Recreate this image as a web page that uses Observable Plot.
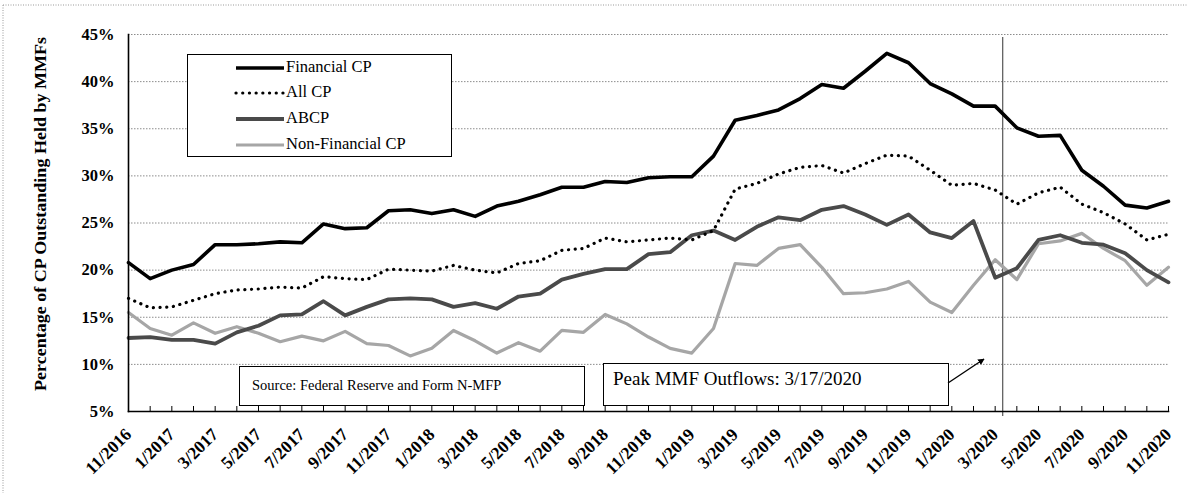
<!DOCTYPE html>
<html><head><meta charset="utf-8">
<script src="https://cdn.jsdelivr.net/npm/d3@7"></script>
<script src="https://cdn.jsdelivr.net/npm/@observablehq/plot@0.6"></script>
<style>
body{margin:0;background:#fff;}
#chart{position:relative;width:1187px;height:493px;overflow:hidden;}
</style></head><body><div id="chart"></div>
<script>
const months = ["11/2016","12/2016","1/2017","2/2017","3/2017","4/2017","5/2017","6/2017","7/2017","8/2017","9/2017","10/2017",
"11/2017","12/2017","1/2018","2/2018","3/2018","4/2018","5/2018","6/2018","7/2018","8/2018","9/2018","10/2018",
"11/2018","12/2018","1/2019","2/2019","3/2019","4/2019","5/2019","6/2019","7/2019","8/2019","9/2019","10/2019",
"11/2019","12/2019","1/2020","2/2020","3/2020","4/2020","5/2020","6/2020","7/2020","8/2020","9/2020","10/2020","11/2020"];
const financialCP = [20.8,19.1,20.0,20.6,22.7,22.7,22.8,23.0,22.9,24.9,24.4,24.5,26.3,26.4,26.0,26.4,25.7,26.8,27.3,28.0,28.8,28.8,29.4,29.3,29.8,29.9,29.9,32.1,35.9,36.4,37.0,38.2,39.7,39.3,41.1,43.0,42.0,39.8,38.7,37.4,37.4,35.1,34.2,34.3,30.6,28.9,26.9,26.6,27.3];
const allCP = [17.0,16.0,16.1,16.8,17.5,17.9,18.0,18.2,18.1,19.3,19.1,19.0,20.1,20.0,19.9,20.5,20.0,19.7,20.7,21.0,22.1,22.3,23.4,23.0,23.2,23.4,23.2,24.2,28.6,29.2,30.2,30.9,31.1,30.3,31.3,32.2,32.1,30.6,29.0,29.2,28.5,27.0,28.2,28.8,27.0,26.1,24.9,23.2,23.8];
const abcp = [12.8,12.9,12.6,12.6,12.2,13.4,14.1,15.2,15.3,16.7,15.2,16.1,16.9,17.0,16.9,16.1,16.5,15.9,17.2,17.5,19.0,19.6,20.1,20.1,21.7,21.9,23.7,24.2,23.2,24.6,25.6,25.3,26.4,26.8,25.9,24.8,25.9,24.0,23.4,25.2,19.2,20.2,23.2,23.7,22.9,22.7,21.8,20.0,18.7];
const nonFinancialCP = [15.5,13.8,13.1,14.4,13.3,14.0,13.3,12.4,13.0,12.5,13.5,12.2,12.0,10.9,11.7,13.6,12.5,11.2,12.3,11.4,13.6,13.4,15.3,14.3,12.9,11.7,11.2,13.8,20.7,20.5,22.3,22.7,20.3,17.5,17.6,18.0,18.8,16.6,15.5,18.4,21.1,19.0,22.8,23.1,23.9,22.3,21.0,18.4,20.3];
const seriesNames = ["Financial CP","All CP","ABCP","Non-Financial CP"];
const yTicks = [5,10,15,20,25,30,35,40,45];
const peakIndex = 40.35; // 3/17/2020 position on the month axis
const sourceText = "Source: Federal Reserve and Form N-MFP";
const peakText = "Peak MMF Outflows: 3/17/2020";
const yTitle = "Percentage of CP Outstanding Held by MMFs";

const seriesValues = [financialCP, allCP, abcp, nonFinancialCP];
const styles = {
  "Financial CP": {stroke:"#000", strokeWidth:3.6},
  "All CP": {stroke:"#000", strokeWidth:3.2, strokeDasharray:"0.1,6.6", strokeLinecap:"round"},
  "ABCP": {stroke:"#4a4a4a", strokeWidth:3.8},
  "Non-Financial CP": {stroke:"#a6a6a6", strokeWidth:3.2}
};
const rows = seriesNames.flatMap((s, k) => seriesValues[k].map((v, i) => ({series:s, i, month:months[i], value:v})));
const font = "'Liberation Serif','Times New Roman',serif";

const lineMarks = ["Non-Financial CP","ABCP","All CP","Financial CP"].map(s =>
  Plot.line(rows.filter(r => r.series === s), {x:"i", y:"value", strokeLinejoin:"round", ...styles[s]}));

const chart = Plot.plot({
  width:1187, height:493, marginLeft:128, marginRight:19, marginTop:34, marginBottom:82,
  style:{fontFamily:font, background:"#fff", color:"#000", fontSize:"14px"},
  x:{type:"linear", domain:[0, months.length-1]},
  y:{domain:[5,45]},
  marks:[
    Plot.gridY(yTicks.filter(t => t > 5), {stroke:"#8c8c8c", strokeOpacity:1, strokeDasharray:"1.5,1.5", strokeWidth:1}),
    Plot.axisY({ticks:yTicks, tickSize:0, tickPadding:14, tickFormat:d => d + "%", label:null, fontSize:16.5, fontWeight:"bold"}),
    Plot.axisX({ticks:d3.range(months.length), tickSize:5, dy:-5, tickFormat:() => "", label:null}),
    Plot.axisX({ticks:d3.range(0, months.length, 2), tickSize:0, tickPadding:20, tickRotate:-45, tickFormat:i => months[i], label:null, fontSize:17.5, fontWeight:"bold"}),
    Plot.ruleX([peakIndex], {stroke:"#333", strokeWidth:1, insetTop:3, insetBottom:-5}),
    ...lineMarks,
    Plot.frame({anchor:"left", strokeWidth:1.6}),
    Plot.frame({anchor:"bottom", strokeWidth:1.6})
  ]
});
document.getElementById("chart").appendChild(chart);

const svg = d3.select(chart);
svg.selectAll("text").each(function() {
  const rotated = (this.getAttribute("transform") || "").includes("rotate") ||
                  (this.parentNode.getAttribute("transform") || "").includes("rotate");
  d3.select(this).style("font-size", rotated ? "17.5px" : "16.5px").style("font-weight", "bold");
});

const g = svg.append("g").attr("font-family", font).attr("text-anchor", "start").style("font-weight", "normal");

// dotted outer frame (top and left edges)
g.append("line").attr("x1",3).attr("x2",1187).attr("y1",5).attr("y2",5).attr("stroke","#999").attr("stroke-dasharray","1,1.5");
g.append("line").attr("x1",3).attr("x2",3).attr("y1",5).attr("y2",493).attr("stroke","#999").attr("stroke-dasharray","1,1.5");

// y-axis title
g.append("text").attr("transform","translate(42,214) rotate(-90)").attr("text-anchor","middle")
  .style("font-weight","bold").style("font-size","17px").attr("dominant-baseline","middle")
  .attr("textLength",354).attr("lengthAdjust","spacingAndGlyphs").text(yTitle);

// legend
const leg = g.append("g");
leg.append("rect").attr("x",187.5).attr("y",54.5).attr("width",264).attr("height",102).attr("fill","#fff").attr("stroke","#000").attr("stroke-width",1);
const legY = [68, 93, 119, 145];
seriesNames.forEach((s, k) => {
  const st = styles[s];
  leg.append("line").attr("x1",236).attr("x2",284).attr("y1",legY[k]).attr("y2",legY[k])
    .attr("stroke",st.stroke).attr("stroke-width",st.strokeWidth)
    .attr("stroke-dasharray",st.strokeDasharray || null).attr("stroke-linecap",st.strokeLinecap || "butt");
  leg.append("text").attr("x",286).attr("y",legY[k]).attr("dominant-baseline","middle").style("font-size","16.5px").text(s);
});

// source box
g.append("rect").attr("x",239.5).attr("y",366.5).attr("width",345).attr("height",39).attr("fill","#fff").attr("stroke","#000").attr("stroke-width",1);
g.append("text").attr("x",252).attr("y",387).attr("dominant-baseline","middle").style("font-size","14.5px").text(sourceText);

// peak box
g.append("rect").attr("x",603.5).attr("y",363.5).attr("width",345).attr("height",42).attr("fill","#fff").attr("stroke","#000").attr("stroke-width",1);
g.append("text").attr("x",613).attr("y",381).attr("dominant-baseline","middle").style("font-size","19px").text(peakText);

// arrow
svg.append("defs").append("marker").attr("id","ah").attr("viewBox","0 0 10 10").attr("refX",9).attr("refY",5)
  .attr("markerWidth",5).attr("markerHeight",5).attr("orient","auto")
  .append("path").attr("d","M0,0L10,5L0,10z").attr("fill","#000");
g.append("line").attr("x1",948).attr("y1",383).attr("x2",984).attr("y2",359).attr("stroke","#000").attr("stroke-width",1.3).attr("marker-end","url(#ah)");
</script></body></html>
